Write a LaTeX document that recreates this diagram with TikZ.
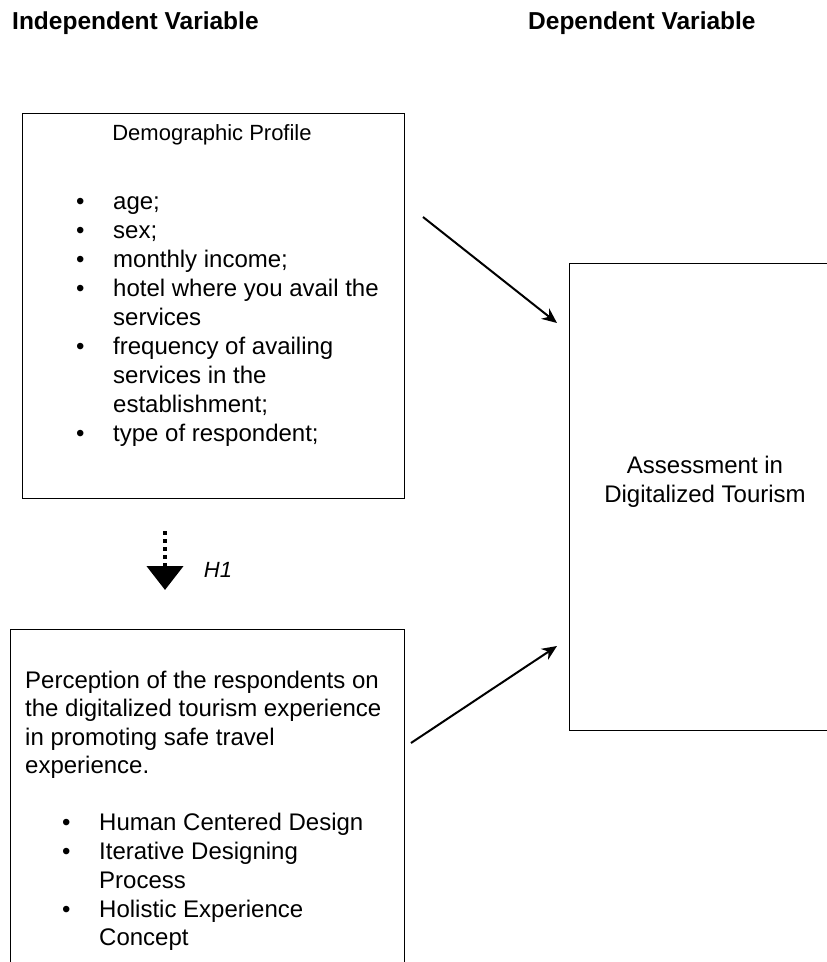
\documentclass[tikz,border=0pt]{standalone}
\usepackage{fontspec}
\setmainfont{Liberation Sans}
\usetikzlibrary{calc,positioning,arrows.meta}

\begin{document}
\begin{tikzpicture}[
    x=1pt, y=-1pt,
    varbox/.style={rectangle, draw, line width=1.2pt, anchor=north west,
        inner sep=0pt},
    boxtext/.style={inner sep=0pt, align=left, anchor=north west,
        font=\fontsize{24}{29}\selectfont},
    heading/.style={inner sep=0pt, anchor=west,
        font=\fontsize{24.5}{28}\selectfont\bfseries},
    arrowstyle/.style={draw, line width=2pt, -{Stealth[length=15pt,width=13pt]}},
    hypothesis/.style={draw, line width=4.5pt, dash pattern=on 4pt off 4pt,
        -{Triangle[length=24pt,width=36pt]}}
]
\useasboundingbox (0,0) rectangle (827,962);
\clip (0,0) rectangle (827,962);

% headings
\node (indep) [heading] at (12,23) {Independent Variable};
\node (dep) [heading] at (528,23) {Dependent Variable};

% boxes
\node (demog) [varbox, minimum width=382pt, minimum height=385pt] at (22,113) {};
\node (perc) [varbox, minimum width=394pt, minimum height=400pt] at (10,629) {};
\node (assess) [varbox, minimum width=275pt, minimum height=467pt] at (569,263) {};

% demographic profile
\node (demogtitle) [inner sep=0pt, font=\fontsize{22}{26}\selectfont]
    at (212,135) {Demographic Profile};
\node (demoglist) [boxtext] at (76,196) {%
    \makebox[37pt][l]{\textbullet}age;\\
    \makebox[37pt][l]{\textbullet}sex;\\
    \makebox[37pt][l]{\textbullet}monthly income;\\
    \makebox[37pt][l]{\textbullet}hotel where you avail the\\
    \hspace*{37pt}services\\
    \makebox[37pt][l]{\textbullet}frequency of availing\\
    \hspace*{37pt}services in the\\
    \hspace*{37pt}establishment;\\
    \makebox[37pt][l]{\textbullet}type of respondent;};

% perception
\node (percintro) [boxtext, font=\fontsize{24}{28.3}\selectfont] at (25,671) {%
    Perception of the respondents on\\
    the digitalized tourism experience\\
    in promoting safe travel\\
    experience.};
\node (perclist) [boxtext, font=\fontsize{24}{28.8}\selectfont] at (62,813) {%
    \makebox[37pt][l]{\textbullet}Human Centered Design\\
    \makebox[37pt][l]{\textbullet}Iterative Designing\\
    \hspace*{37pt}Process\\
    \makebox[37pt][l]{\textbullet}Holistic Experience\\
    \hspace*{37pt}Concept};

% dependent variable
\node (assesstext) [inner sep=0pt, align=center,
    font=\fontsize{24}{29.5}\selectfont] at (705,482)
    {Assessment in\\Digitalized Tourism};

% connectors
\coordinate (demogout) at (423,217);
\coordinate (assessin1) at (557,323);
\coordinate (percout) at (411,743);
\coordinate (assessin2) at (557,646);
\coordinate (hstart) at (165,531);
\coordinate (hend) at (165,590);
\draw [arrowstyle] (demogout) -- (assessin1);
\draw [arrowstyle] (percout) -- (assessin2);
\draw [hypothesis] (hstart) -- (hend);
\node (hlabel) [inner sep=0pt, font=\fontsize{22}{26}\selectfont\itshape]
    at (218,570) {H1};
\end{tikzpicture}
\end{document}
